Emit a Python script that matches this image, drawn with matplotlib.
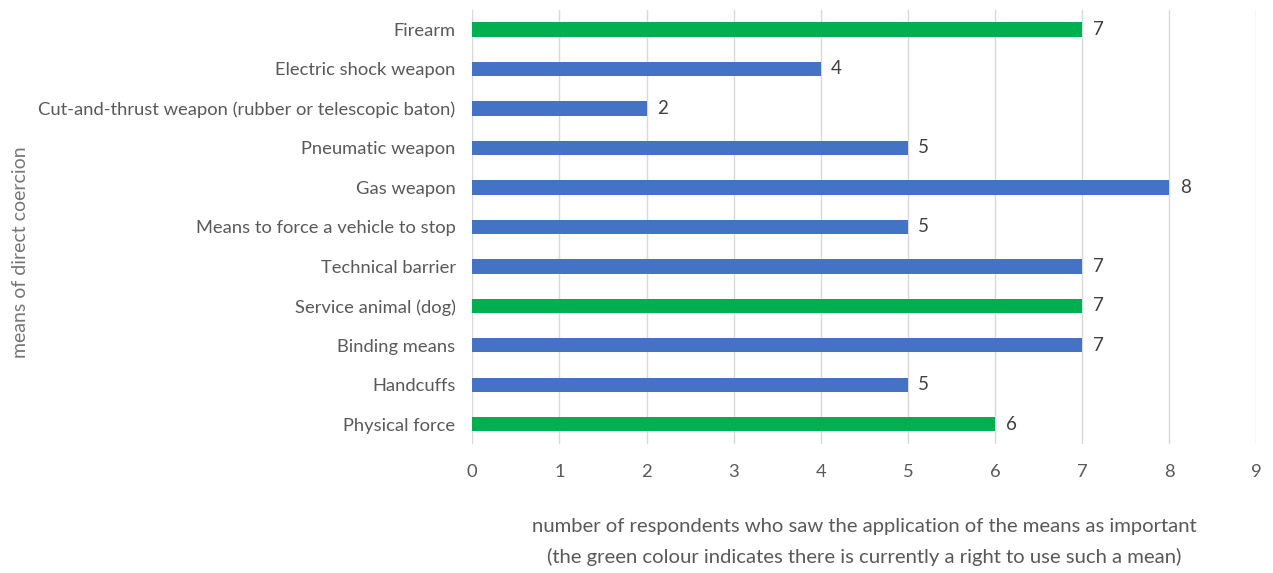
import matplotlib.pyplot as plt
import numpy as np

plt.rcParams["font.family"] = ["Lato", "DejaVu Sans"]

categories = ["Physical force", "Handcuffs", "Binding means", "Service animal (dog)",
              "Technical barrier", "Means to force a vehicle to stop", "Gas weapon",
              "Pneumatic weapon", "Cut-and-thrust weapon (rubber or telescopic baton)",
              "Electric shock weapon", "Firearm"]
values = [6, 5, 7, 7, 7, 5, 8, 5, 2, 4, 7]
has_right = [True, False, False, True, False, False, False, False, False, False, True]

GREEN = "#00B050"
BLUE = "#4472C4"
TXT = "#595959"

fig = plt.figure(figsize=(12.73, 5.73), dpi=100)
ax = fig.add_axes([0.371, 0.225, 0.616, 0.758])

y = np.arange(len(categories))
colors = [GREEN if g else BLUE for g in has_right]
ax.barh(y, values, height=0.36, color=colors, zorder=3)

for yi, v in zip(y, values):
    ax.text(v + 0.12, yi, str(v), va="center", ha="left", fontsize=13.5, color="#404040")

ax.set_xlim(0, 9)
ax.set_ylim(-0.5, len(categories) - 0.5)
ax.set_xticks(range(10))
ax.set_yticks(y)
ax.set_yticklabels(categories, fontsize=13.2, color=TXT)
ax.tick_params(axis="x", labelsize=13.2, labelcolor=TXT, length=0, pad=14)
ax.tick_params(axis="y", length=0, pad=12)
ax.grid(True, axis="x", color="#D9D9D9", linewidth=1, zorder=0)
for s in ax.spines.values():
    s.set_visible(False)

ax.set_xlabel("number of respondents who saw the application of the means as important\n"
              "(the green colour indicates there is currently a right to use such a mean)",
              fontsize=14.6, color=TXT, labelpad=28, linespacing=1.85)
fig.text(0.016, 0.56, "means of direct coercion", rotation=90, ha="center", va="center",
         fontsize=14, color="#767676")

plt.savefig("out.png", dpi=100)
